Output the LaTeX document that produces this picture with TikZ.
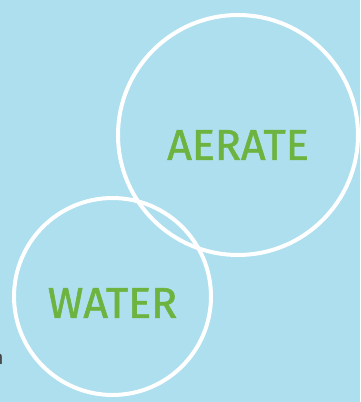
\documentclass[tikz,border=0pt]{standalone}
\usepackage{fontspec}
\setmainfont{Fira Sans}
\newfontfamily\labelfont{Fira Sans}[BoldFont={Fira Sans}, BoldFeatures={FakeBold=1.3}]
\usepackage{tikz}
\usetikzlibrary{positioning,calc}
\definecolor{skyblue}{HTML}{ADDFEF}
\definecolor{leafgreen}{HTML}{6DB33F}
\definecolor{inkgray}{HTML}{444444}

\begin{document}
\begin{tikzpicture}[x=0.02cm, y=-0.02cm,
    ring/.style={circle, draw=white, line width=0.08cm, inner sep=0pt},
    word/.style={text=leafgreen, font=\labelfont\bfseries\fontsize{24.5}{28}\selectfont, inner sep=0pt}
]
    % Background
    \fill[skyblue] (0,0) rectangle (360,402);
    \useasboundingbox (0,0) rectangle (360,402);

    % Circles
    \node[ring, minimum size=4.8cm] (aerate) at (238,135) {};
    \node[ring, minimum size=3.94cm] (water) at (112.5,296.5) {};

    % Labels
    \node[word] (aeratetxt) at ($(aerate.center)+(0,10)$) {AERATE};
    \node[word] (watertxt) at ($(water.center)+(0,6.5)$) {WATER};

    % Cut-off text at the left edge
    \node[text=inkgray, font=\fontsize{11}{13}\selectfont, inner sep=0pt, anchor=base east] (cut) at (4,364) {n};
\end{tikzpicture}
\end{document}
